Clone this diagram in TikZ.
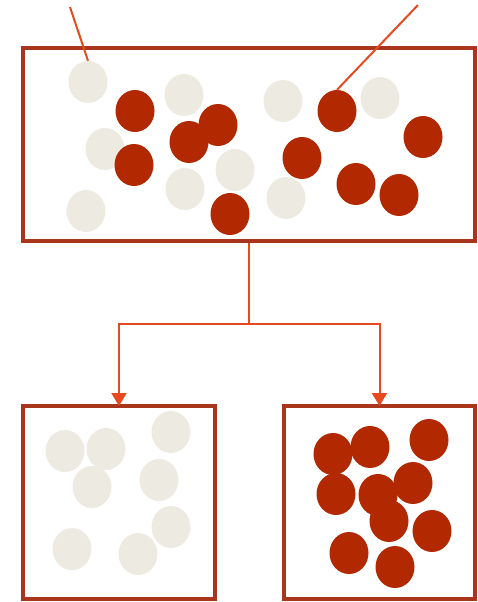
\documentclass[tikz,border=0pt]{standalone}
\usepackage{tikz}
\usetikzlibrary{shapes.geometric,arrows.meta}

\definecolor{boxred}{HTML}{A8351C}
\definecolor{beadred}{HTML}{B22800}
\definecolor{beadwhite}{HTML}{EDEBE1}
\definecolor{linkred}{HTML}{E84A1F}

\begin{document}
\begin{tikzpicture}[x=1pt, y=-1pt,
  box/.style={draw=boxred, line width=4pt, inner sep=0pt},
  white bead/.style={ellipse, fill=beadwhite, minimum width=39pt, minimum height=42pt, inner sep=0pt},
  red bead/.style={ellipse, fill=beadred, minimum width=39pt, minimum height=42pt, inner sep=0pt},
  link/.style={draw=linkred, line width=2pt},
  arrow/.style={link, -{Triangle[width=15pt,length=13pt]}}]
\useasboundingbox (0,0) rectangle (477,602);
\node[box, minimum width=452pt, minimum height=193pt] (mix)   at (249,144.5) {};
\node[box, minimum width=192pt, minimum height=193pt] (light) at (119,502.5) {};
\node[box, minimum width=191pt, minimum height=193pt] (dark)  at (379.5,502.5) {};
% mixed beads
\node[white bead] (w1) at (88,82) {};
\node[white bead] (w2) at (184,95) {};
\node[white bead] (w3) at (283,101) {};
\node[white bead] (w4) at (380,98) {};
\node[white bead] (w5) at (105,149) {};
\node[white bead] (w6) at (235,170) {};
\node[white bead] (w7) at (185,189) {};
\node[white bead] (w8) at (286,198) {};
\node[white bead] (w9) at (86,211) {};
\node[red bead] (r1) at (135,111) {};
\node[red bead] (r2) at (218,125) {};
\node[red bead] (r3) at (189,142) {};
\node[red bead] (r4) at (134,165) {};
\node[red bead] (r5) at (337,111) {};
\node[red bead] (r6) at (423,137) {};
\node[red bead] (r7) at (302,158) {};
\node[red bead] (r8) at (356,184) {};
\node[red bead] (r9) at (399,195) {};
\node[red bead] (r10) at (230,214) {};
% sorted beads
\node[white bead] (lw1) at (65,451) {};
\node[white bead] (lw2) at (106,449) {};
\node[white bead] (lw3) at (171,432) {};
\node[white bead] (lw4) at (92,487) {};
\node[white bead] (lw5) at (159,480) {};
\node[white bead] (lw6) at (171,527) {};
\node[white bead] (lw7) at (72,549) {};
\node[white bead] (lw8) at (138,554) {};
\node[red bead] (dr1) at (333,454) {};
\node[red bead] (dr2) at (370,447) {};
\node[red bead] (dr3) at (429,440) {};
\node[red bead] (dr4) at (336,494) {};
\node[red bead] (dr5) at (378,495) {};
\node[red bead] (dr6) at (413,483) {};
\node[red bead] (dr7) at (389,521) {};
\node[red bead] (dr8) at (432,531) {};
\node[red bead] (dr9) at (349,553) {};
\node[red bead] (dr10) at (395,567) {};
% pointers and split
\coordinate (p1) at (70,7);
\coordinate (p2) at (418,5);
\coordinate (split) at (249,324);
\draw[link] (p1) -- (w1.north);
\draw[link] (p2) -- (r5.north);
\draw[link] (mix.south) -- (split);
\draw[arrow] (split) -| ([yshift=-2pt]light.north);
\draw[arrow] (split) -| ([yshift=-2pt]dark.north);
\end{tikzpicture}
\end{document}
